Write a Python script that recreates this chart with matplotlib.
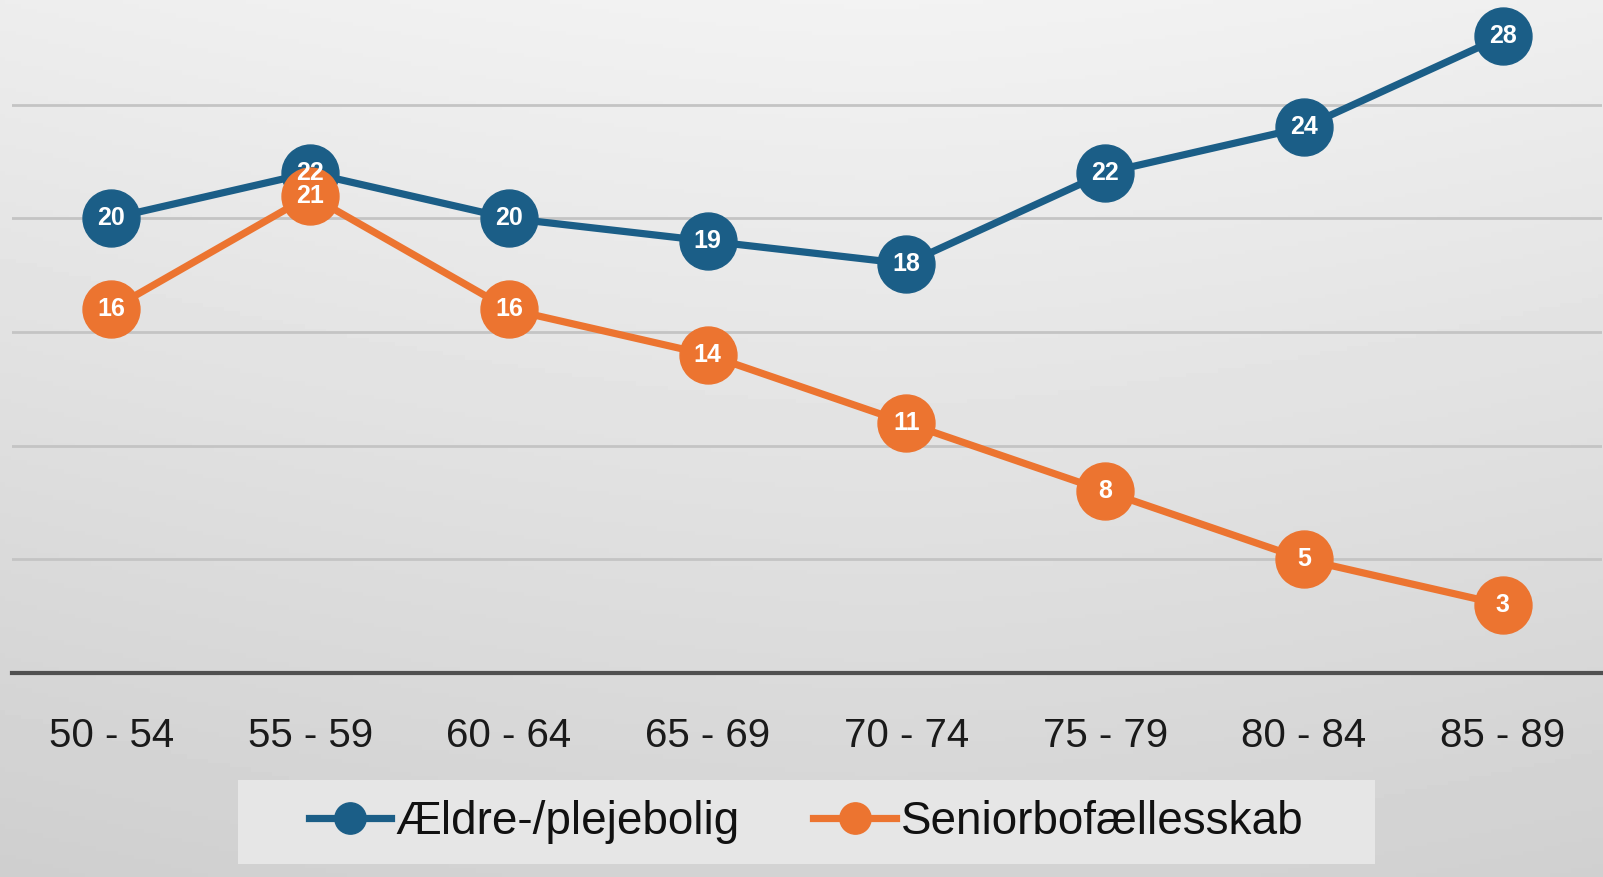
import numpy as np
import matplotlib
matplotlib.use("Agg")
from matplotlib import pyplot as plt
from matplotlib.patches import Rectangle

# data
age_groups = ["50 - 54", "55 - 59", "60 - 64", "65 - 69", "70 - 74", "75 - 79", "80 - 84", "85 - 89"]
aeldre = [20, 22, 20, 19, 18, 22, 24, 28]
senior = [16, 21, 16, 14, 11, 8, 5, 3]

blue = "#1b5e87"
orange = "#ec7430"
font = ["Liberation Sans Narrow", "Liberation Sans", "DejaVu Sans"]
plt.rcParams["font.family"] = font

fig = plt.figure(figsize=(16.03, 8.77), dpi=100)

# gradient background
bg = fig.add_axes([0, 0, 1, 1], zorder=-10)
yy, xx = np.mgrid[0:1:200j, 0:1:300j]
shade = 0.95 - 0.12 * yy - 0.05 * np.abs(xx - 0.55) ** 1.5
bg.imshow(shade, cmap="gray", vmin=0, vmax=1, aspect="auto", extent=[0, 1, 0, 1], origin="upper")
bg.axis("off")
# legend box
fig.patches.append(Rectangle((238 / 1603, 1 - 864 / 877), 1137 / 1603, 84 / 877,
                             transform=fig.transFigure, facecolor="#e6e6e6", edgecolor="none", zorder=-5))

ax = fig.add_axes([12 / 1603, 204 / 877, 1590 / 1603, 673 / 877])
ax.patch.set_alpha(0)

x = np.arange(len(age_groups))
ax.plot(x, aeldre, color=blue, lw=5.2, marker="o", ms=41, label="Ældre-/plejebolig", zorder=3)
ax.plot(x, senior, color=orange, lw=5.2, marker="o", ms=41, label="Seniorbofællesskab", zorder=4)

for xi, v in zip(x, aeldre):
    ax.text(xi, v, str(v), color="white", ha="center", va="center", fontsize=18, fontweight="bold", zorder=6)
for xi, v in zip(x, senior):
    ax.text(xi, v, str(v), color="white", ha="center", va="center", fontsize=18, fontweight="bold", zorder=5)

ax.set_xlim(-0.5, 7.5)
ax.set_ylim(0, 29.6)
ax.set_yticks([5, 10, 15, 20, 25])
ax.yaxis.grid(True, color="#c4c4c4", lw=2)
ax.set_axisbelow(True)
ax.tick_params(axis="y", left=False, labelleft=False)
ax.tick_params(axis="x", bottom=False, labelsize=29, pad=28, colors="#1a1a1a")
ax.set_xticks(x)
ax.set_xticklabels(age_groups)
for s in ["top", "right", "left"]:
    ax.spines[s].set_visible(False)
ax.spines["bottom"].set_color("#505050")
ax.spines["bottom"].set_linewidth(3)

ax.legend(loc="center", bbox_to_anchor=(806 / 1603, 1 - 822 / 877), bbox_transform=fig.transFigure,
          ncol=2, fontsize=33, frameon=False, markerscale=0.55,
          handlelength=1.8, handletextpad=0.1, columnspacing=1.6, labelcolor="#111111")

fig.savefig("out.png", dpi=100)
